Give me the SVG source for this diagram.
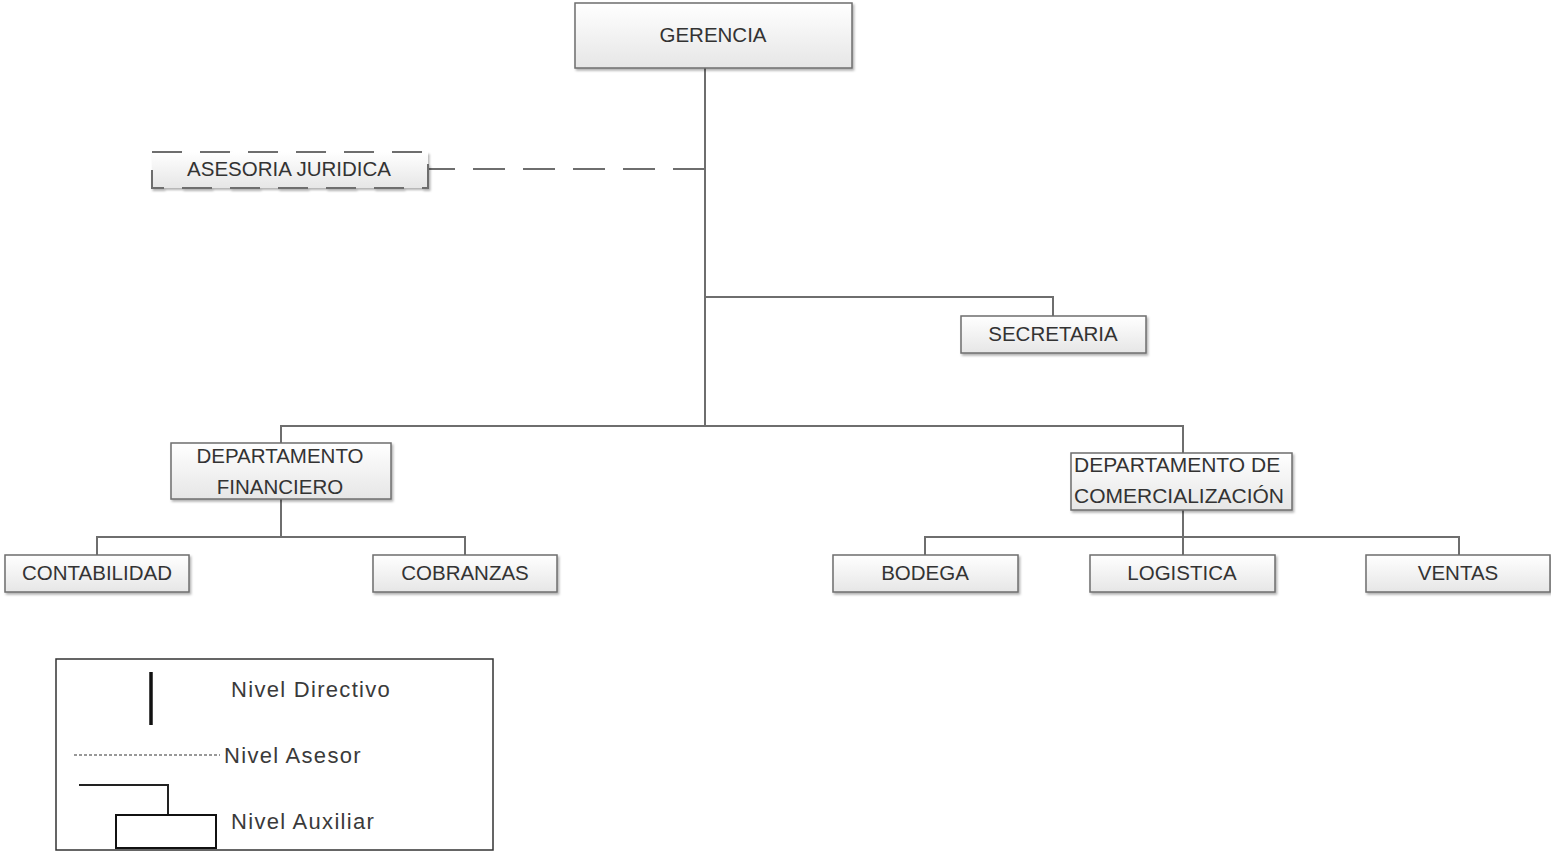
<svg xmlns="http://www.w3.org/2000/svg" width="1551" height="852" viewBox="0 0 1551 852">
<style>
.box{fill:url(#g);stroke:#6e6e6e;stroke-width:1.5;filter:url(#sh)}
.t{font-family:"Liberation Sans",Arial,sans-serif;font-size:20.5px;fill:#333;text-anchor:middle}
.tl{font-family:"Liberation Sans",Arial,sans-serif;font-size:21px;fill:#333}
.c{fill:none;stroke:#6e6e6e;stroke-width:2}
.lg{font-family:"Liberation Sans",Arial,sans-serif;font-size:22px;letter-spacing:1.3px;fill:#3a3a3a}
</style>
<defs>
<linearGradient id="g" x1="0" y1="0" x2="0" y2="1">
<stop offset="0" stop-color="#ffffff"/>
<stop offset="1" stop-color="#e6e6e6"/>
</linearGradient>
<filter id="sh" x="-10%" y="-20%" width="120%" height="150%">
<feDropShadow dx="1.5" dy="2" stdDeviation="1.2" flood-color="#000" flood-opacity="0.3"/>
</filter>
</defs>
<rect width="1551" height="852" fill="#fff"/>
<g id="connectors">
<path class="c" d="M705 68V425" stroke-width="2.5"/>
<path class="c" d="M705 169H428" stroke-dasharray="32 18"/>
<path class="c" d="M705 297H1053V316"/>
<path class="c" d="M281 443V426H1183V453"/>
<path class="c" d="M281 499V537"/>
<path class="c" d="M97 555V537H465V555"/>
<path class="c" d="M1183 510V555"/>
<path class="c" d="M925 555V537H1459V555"/>
</g>
<g id="gerencia"><rect class="box" x="575" y="3" width="277" height="65"/><text class="t" x="713" y="42">GERENCIA</text></g>
<g id="asesoria"><rect x="152" y="152" width="276" height="36" fill="url(#g)" stroke="#6e6e6e" stroke-width="2" stroke-dasharray="30 18" filter="url(#sh)"/><text class="t" x="289" y="176">ASESORIA JURIDICA</text></g>
<g id="secretaria"><rect class="box" x="961" y="316" width="185" height="37"/><text class="t" x="1053" y="341">SECRETARIA</text></g>
<g id="financiero"><rect class="box" x="171" y="443" width="220" height="56"/><text class="t" x="280" y="463">DEPARTAMENTO</text><text class="t" x="280" y="494">FINANCIERO</text></g>
<g id="comercializacion"><rect class="box" x="1071" y="453" width="221" height="57"/><text class="tl" x="1074" y="472">DEPARTAMENTO DE</text><text class="tl" x="1074" y="503">COMERCIALIZACIÓN</text></g>
<g id="contabilidad"><rect class="box" x="5" y="555" width="184" height="37"/><text class="t" x="97" y="580">CONTABILIDAD</text></g>
<g id="cobranzas"><rect class="box" x="373" y="555" width="184" height="37"/><text class="t" x="465" y="580">COBRANZAS</text></g>
<g id="bodega"><rect class="box" x="833" y="555" width="185" height="37"/><text class="t" x="925" y="580">BODEGA</text></g>
<g id="logistica"><rect class="box" x="1090" y="555" width="185" height="37"/><text class="t" x="1182" y="580">LOGISTICA</text></g>
<g id="ventas"><rect class="box" x="1366" y="555" width="184" height="37"/><text class="t" x="1458" y="580">VENTAS</text></g>
<g id="legend">
<rect x="56" y="659" width="437" height="191" fill="#fff" stroke="#333" stroke-width="1.5"/>
<path d="M151 672V725" stroke="#111" stroke-width="3.5"/>
<text class="lg" x="231" y="697">Nivel Directivo</text>
<path d="M74 755H220" stroke="#333" stroke-width="1.2" stroke-dasharray="3 2"/>
<text class="lg" x="224" y="763">Nivel Asesor</text>
<path d="M79 785H168V815" fill="none" stroke="#222" stroke-width="2"/>
<rect x="116" y="815" width="100" height="33" fill="#fff" stroke="#111" stroke-width="2"/>
<text class="lg" x="231" y="829">Nivel Auxiliar</text>
</g>
</svg>
